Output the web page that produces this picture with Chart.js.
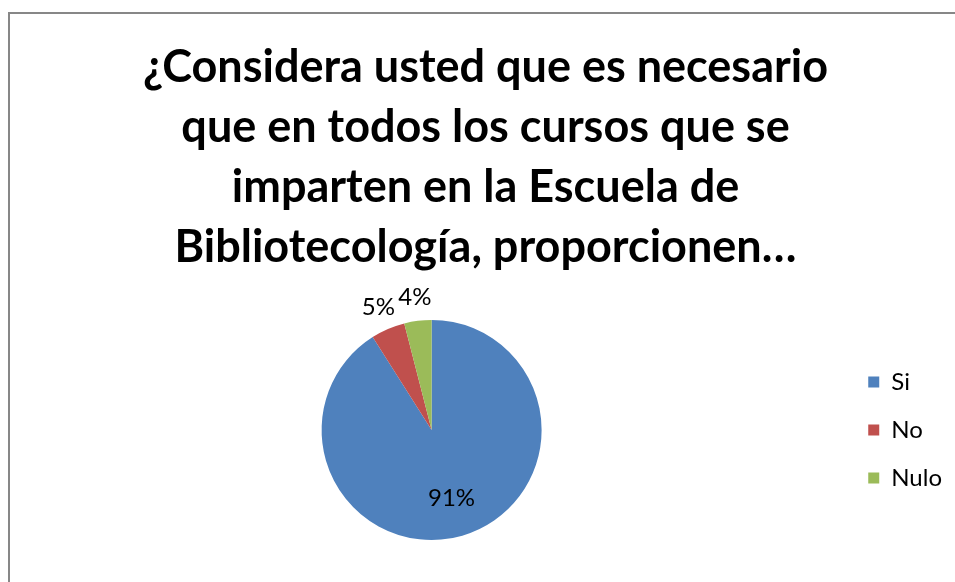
<!DOCTYPE html>
<html>
<head>
<meta charset="utf-8">
<script src="https://cdn.jsdelivr.net/npm/chart.js@4/dist/chart.umd.min.js"></script>
<style>
  html, body { margin: 0; padding: 0; background: #fff; overflow: hidden; }
  #frame {
    position: absolute; left: 8px; top: 12px;
    width: 1000px; height: 620px;
    border: 2px solid #878787;
    background: #fff;
  }
  canvas { display: block; }
</style>
</head>
<body>
<div id="frame"><canvas id="chart-pie" width="980" height="570"></canvas></div>
<script>
var titleLines = [
  '¿Considera usted que es necesario',
  'que en todos los cursos que se',
  'imparten en la Escuela de',
  'Bibliotecología, proporcionen…'
];
var labels = ['Si', 'No', 'Nulo'];
var values = [91, 5, 4];
var colors = ['#4F81BD', '#C0504D', '#9BBB59'];

var pieLabels = {
  id: 'pieLabels',
  afterDatasetsDraw: function (chart) {
    var ctx = chart.ctx;
    var total = values.reduce(function (a, b) { return a + b; }, 0);
    ctx.save();
    ctx.font = '24px Lato';
    ctx.fillStyle = '#000';
    ctx.textAlign = 'center';
    ctx.textBaseline = 'middle';
    chart.getDatasetMeta(0).data.forEach(function (arc, i) {
      var p = arc.getProps(['x', 'y', 'startAngle', 'endAngle', 'outerRadius'], true);
      var mid = (p.startAngle + p.endAngle) / 2;
      var share = values[i] / total;
      // big slice gets its label inside, the thin ones sit just outside
      var dist = share > 0.15 ? p.outerRadius * 0.65 : p.outerRadius + 24;
      ctx.fillText(Math.round(share * 100) + '%', p.x + Math.cos(mid) * dist, p.y + Math.sin(mid) * dist);
    });
    ctx.restore();
  },
};

var ctx = document.getElementById('chart-pie').getContext('2d');
var chart = new Chart(ctx, {
  type: 'pie',
  plugins: [pieLabels],
  data: {
    labels: labels,
    datasets: [
      {
        data: values,
        backgroundColor: colors,
        borderWidth: 0,
      },
    ],
  },
  options: {
    responsive: false,
    animation: false,
    layout: {
      padding: { left: 9, right: 38, top: 0, bottom: 44 },
    },
    plugins: {
      tooltip: { enabled: false },
      title: {
        display: true,
        text: titleLines,
        color: '#000',
        font: { family: 'Lato', size: 45, weight: 'bold', lineHeight: 60 / 45 },
        padding: { top: 23, bottom: 43 },
      },
      legend: {
        position: 'right',
        fullSize: false,
        labels: {
          color: '#000',
          font: { family: 'Lato', size: 24 },
          boxWidth: 11,
          boxHeight: 11,
          padding: 24,
        },
      },
    },
  },
});
</script>
</body>
</html>
